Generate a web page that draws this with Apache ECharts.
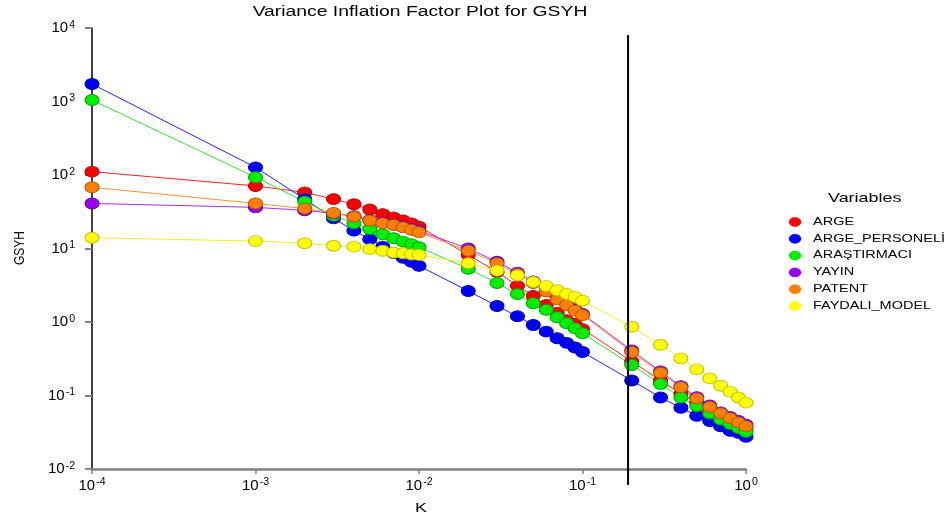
<!DOCTYPE html>
<html>
<head>
<meta charset="utf-8">
<script src="https://cdn.jsdelivr.net/npm/echarts@6/dist/echarts.min.js"></script>
<style>html,body{margin:0;padding:0;background:#fff}#c{width:949px;height:517px}</style>
</head>
<body>
<div id="c"></div>
<script>
const kValues = [0.0001,0.001,0.002,0.003,0.004,0.005,0.006,0.007,0.008,0.009,0.01,0.02,0.03,0.04,0.05,0.06,0.07,0.08,0.09,0.1,0.2,0.3,0.4,0.5,0.6,0.7,0.8,0.9,1.0];
const seriesNames = ['ARGE','ARGE_PERSONELİ','ARAŞTIRMACI','YAYIN','PATENT','FAYDALI_MODEL'];
const arge = [111,71,58,47,40,34,29.4,26.5,24,22,19.8,8.2,4.8,3.1,2.26,1.7,1.34,1.06,0.94,0.80,0.29,0.16,0.105,0.08,0.063,0.052,0.045,0.04,0.035];
const argePersoneli = [1730,127,47,25.7,17.5,13.4,10.6,8.7,7.5,6.6,5.8,2.64,1.65,1.2,0.91,0.74,0.60,0.52,0.45,0.39,0.16,0.094,0.068,0.053,0.045,0.038,0.033,0.031,0.0275];
const arastirmaci = [1047,93,43.4,28,22,18.4,15.6,13.8,12.4,11.4,10.4,5.3,3.4,2.4,1.8,1.46,1.16,0.96,0.82,0.70,0.26,0.143,0.094,0.072,0.057,0.047,0.041,0.036,0.032];
const yayin = [41,36.3,33,30,27.5,24.5,22.5,21.3,19.9,18.5,17.3,10.0,6.6,4.7,3.55,2.7,2.12,1.77,1.49,1.29,0.41,0.213,0.134,0.095,0.073,0.059,0.051,0.045,0.040];
const patent = [68,41,35,30.5,27,24,22,20.9,19.4,17.9,16.6,9.3,6.3,4.5,3.4,2.6,2.03,1.7,1.43,1.24,0.39,0.204,0.129,0.091,0.070,0.057,0.049,0.043,0.038];
const faydaliModel = [14,12.6,11.8,10.9,10.6,9.8,9.3,8.8,8.6,8.3,8.2,6.3,5.0,4.3,3.5,3.1,2.7,2.4,2.2,1.95,0.86,0.49,0.32,0.227,0.171,0.136,0.113,0.094,0.080];
const xTickValues = [0.0001,0.001,0.01,0.1,1];
const yTickValues = [0.01,0.1,1,10,100,1000,10000];
const refK = 0.19;
const titleText = 'Variance Inflation Factor Plot for GSYH';
const legendTitle = 'Variables';
const xName = 'K';
const yName = 'GSYH';

const allValues = [arge,argePersoneli,arastirmaci,yayin,patent,faydaliModel];
const fillColors = ['#ff0000','#0000ff','#00ee00','#9900ee','#ff8000','#ffff00'];
const lineColors = ['#ff2020','#2020ff','#30e030','#a030ff','#ff9030','#f0f020'];
const borderColors = ['#b00000','#0000b0','#00a800','#6a00a8','#b05a00','#c0c000'];
const FONT = 'Liberation Sans';
const SX = 1.38;

const chart = echarts.init(document.getElementById('c'));
const supFmt = v => {
  const e = Math.round(Math.log10(v));
  return '{a|10}{b|' + e + '}';
};
const richLbl = {
  a: {fontSize: 15, fontFamily: FONT, color: '#000'},
  b: {fontSize: 10.5, fontFamily: FONT, color: '#000', verticalAlign: 'top', padding: [0,0,6,1]}
};

const series = seriesNames.map((name, i) => ({
  name: name,
  type: 'line',
  data: kValues.map((k, j) => [k, allValues[i][j]]),
  symbol: 'circle',
  symbolSize: [14, 11],
  showAllSymbol: true,
  lineStyle: {color: lineColors[i], width: 1},
  itemStyle: {color: fillColors[i], borderColor: borderColors[i], borderWidth: 1},
  emphasis: {disabled: true},
  animation: false
}));

function stretchedText(text, x, y, size, align, extra) {
  return Object.assign({
    type: 'text', x: x, y: y, scaleX: SX, originX: 0, originY: 0,
    style: {text: text, fontSize: size, fontFamily: FONT, fill: '#000', align: align, verticalAlign: 'middle'}
  }, extra || {});
}

function buildGraphics(refX) {
  const g = [];
  g.push(stretchedText(titleText, 420, 12, 14, 'center'));
  g.push(stretchedText(legendTitle, 828, 198, 13, 'left'));
  g.push(stretchedText(xName, 421, 508, 13, 'center'));
  g.push({type: 'text', x: 20, y: 248, rotation: Math.PI / 2, scaleY: 1.25,
    style: {text: yName, fontSize: 12, fontFamily: FONT, fill: '#000', align: 'center', verticalAlign: 'middle'}});
  seriesNames.forEach((n, i) => {
    const y = 222 + i * 16.8;
    g.push({type: 'ellipse', shape: {cx: 795, cy: y, rx: 6, ry: 4.5},
      style: {fill: fillColors[i], stroke: fillColors[i], lineWidth: 0.5}});
    g.push(stretchedText(n, 813, y, 10.5, 'left'));
  });
  if (refX != null) {
    g.push({type: 'line', z: 100, shape: {x1: refX, y1: 35, x2: refX, y2: 485},
      style: {stroke: '#000', lineWidth: 2}});
  }
  return g;
}

chart.setOption({
  animation: false,
  grid: {left: 92, right: 203, top: 28, bottom: 48},
  xAxis: {
    type: 'log', logBase: 10, min: xTickValues[0], max: xTickValues[xTickValues.length-1],
    axisLine: {lineStyle: {color: '#808080', width: 2.5}},
    axisTick: {lineStyle: {color: '#808080', width: 1.5}, length: 5},
    minorTick: {show: false},
    splitLine: {show: false},
    axisLabel: {formatter: supFmt, rich: richLbl, margin: 8}
  },
  yAxis: {
    type: 'log', logBase: 10, min: yTickValues[0], max: yTickValues[yTickValues.length-1],
    axisLine: {show: true, lineStyle: {color: '#000', width: 1.5}},
    axisTick: {show: true, lineStyle: {color: '#808080', width: 2}, length: 7},
    minorTick: {show: false},
    splitLine: {show: false},
    axisLabel: {formatter: supFmt, rich: richLbl, margin: 17}
  },
  graphic: buildGraphics(null),
  series: series
});

const refX = chart.convertToPixel({xAxisIndex: 0}, refK);
chart.setOption({graphic: buildGraphics(refX)}, {replaceMerge: ['graphic']});
</script>
</body>
</html>
